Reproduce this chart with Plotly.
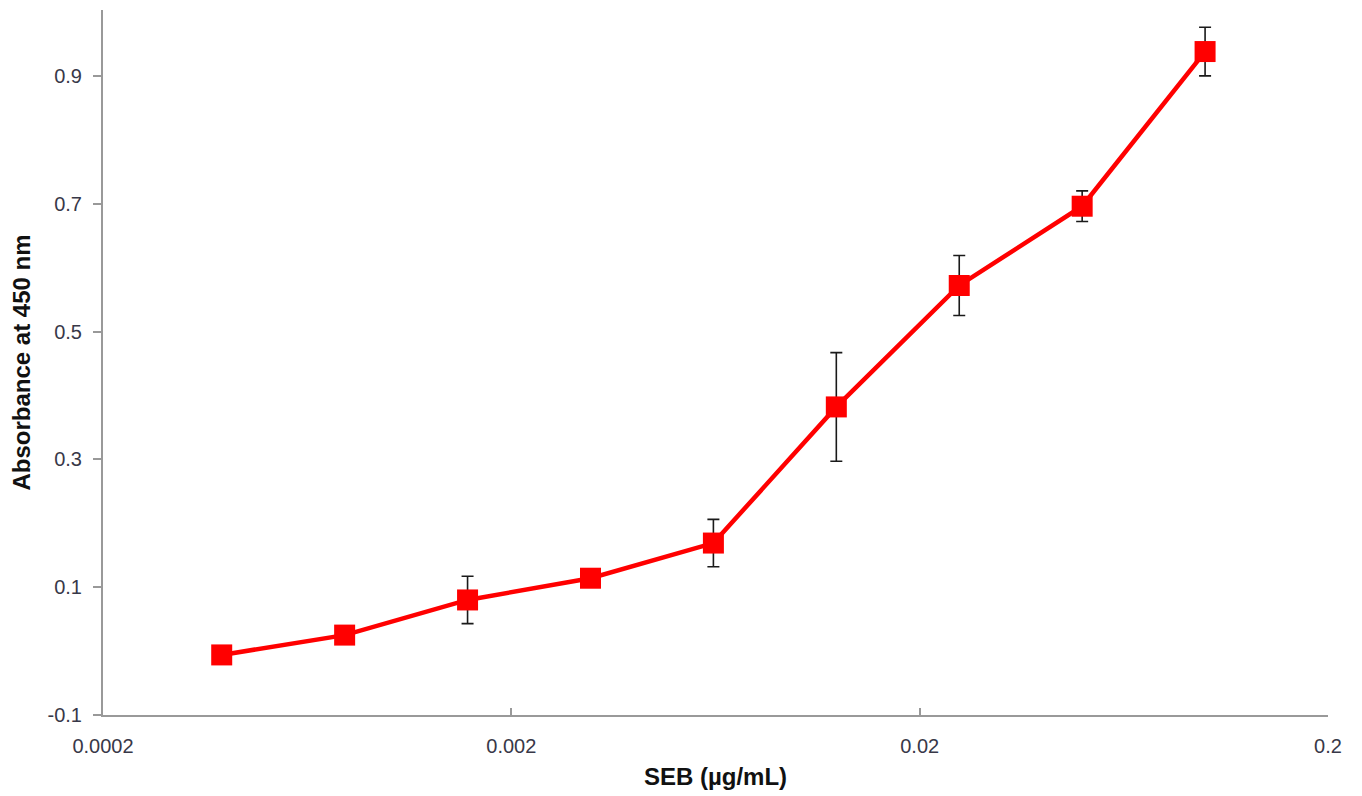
import plotly.graph_objects as go

seb_conc = [0.000390625, 0.00078125, 0.0015625, 0.003125, 0.00625, 0.0125, 0.025, 0.05, 0.1]
absorbance = [-0.006, 0.025, 0.080, 0.114, 0.169, 0.382, 0.572, 0.696, 0.938]
abs_err = [0.010, 0.008, 0.037, 0.010, 0.037, 0.085, 0.047, 0.024, 0.038]

x_tickvals = [0.0002, 0.002, 0.02, 0.2]
x_ticktext = ["0.0002", "0.002", "0.02", "0.2"]
y_tickvals = [-0.1, 0.1, 0.3, 0.5, 0.7, 0.9]
y_ticktext = ["-0.1", "0.1", "0.3", "0.5", "0.7", "0.9"]

fig = go.Figure()
fig.add_trace(go.Scatter(
    x=seb_conc, y=absorbance,
    mode="lines+markers",
    line=dict(color="#FF0000", width=4.5),
    marker=dict(symbol="square", size=21, color="#FF0000"),
    error_y=dict(type="data", array=abs_err, visible=True,
                 color="#1a1a1a", thickness=1.6, width=6),
    showlegend=False,
))

fig.update_layout(
    width=1362, height=796,
    margin=dict(l=95, r=42, t=2, b=89),
    paper_bgcolor="white", plot_bgcolor="white",
    font=dict(family="Liberation Sans, Arial, sans-serif", color="#333333"),
)
fig.update_xaxes(
    type="log", range=[-3.69897, -0.69897],
    tickvals=x_tickvals, ticktext=x_ticktext,
    ticks="inside", ticklen=7, tickcolor="#999999", tickwidth=1.5,
    showline=True, linecolor="#999999", linewidth=2,
    showgrid=False, zeroline=False,
    tickfont=dict(size=20, color="#383848"),
    ticklabelstandoff=12,
    title=dict(text="<b>SEB (µg/mL)</b>", font=dict(size=24, color="#111111"), standoff=12),
)
fig.update_yaxes(
    range=[-0.1, 1.003],
    tickvals=y_tickvals, ticktext=y_ticktext,
    ticks="outside", ticklen=8, tickcolor="#999999", tickwidth=1.5,
    showline=True, linecolor="#999999", linewidth=2,
    showgrid=False, zeroline=False,
    tickfont=dict(size=20, color="#383848"),
    ticklabelstandoff=7,
    title=dict(text="<b>Absorbance at 450 nm</b>", font=dict(size=24, color="#111111"), standoff=10),
)

fig.write_html("out.html")
